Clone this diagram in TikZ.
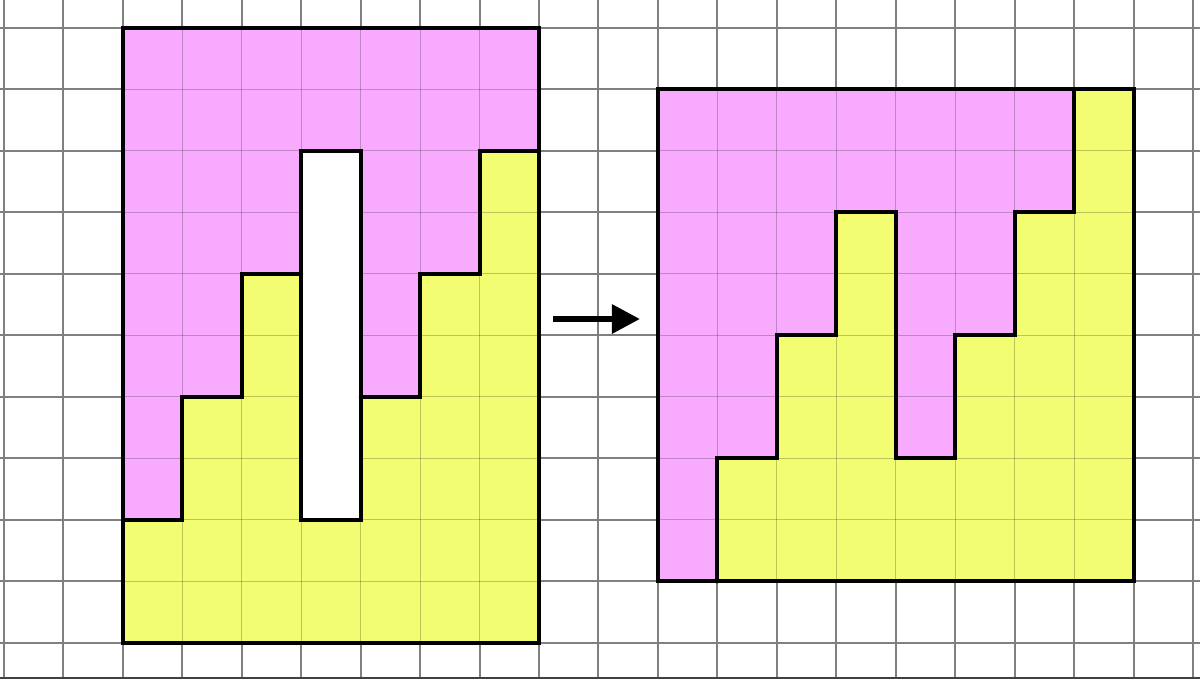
\documentclass[tikz,border=0pt]{standalone}
\usetikzlibrary{arrows.meta}
\definecolor{pinkfill}{RGB}{248,170,255}
\definecolor{yellowfill}{RGB}{243,253,114}
\definecolor{gridcol}{RGB}{128,128,128}
\begin{document}
\begin{tikzpicture}[x={(29.725pt,0)},y={(0,-30.75pt)},
  gridline/.style={draw=gridcol,line width=1pt},
  innergrid/.style={draw=black,opacity=0.22,line width=0.5pt},
  outline/.style={draw=black,line width=2pt,line join=miter},
  cut/.style={draw=black,line width=2pt,line join=miter,line cap=round}]
\useasboundingbox (-0.0673,-0.4553) rectangle (20.118,10.585);
% background grid
\fill[white] (-0.0673,-0.4553) rectangle (20.118,10.585);
\foreach \i in {0,...,20} \draw[gridline] (\i,-0.5) -- (\i,10.6);
\foreach \j in {0,...,10} \draw[gridline] (-0.1,\j) -- (20.2,\j);
\draw[draw=black!75,line width=0.6pt] (-0.1,10.57) -- (20.2,10.57);
% left shape
\fill[yellowfill] (2,0) rectangle (9,10);
\fill[pinkfill] (2,0) -- (9,0) -- (9,2) -- (8,2) -- (8,4) -- (7,4) -- (7,6) -- (6,6) -- (6,2) -- (5,2) -- (5,4) -- (4,4) -- (4,6) -- (3,6) -- (3,8) -- (2,8) -- cycle;
\begin{scope}
\clip (2,0) rectangle (9,10);
\foreach \i in {3,...,8} \draw[innergrid] (\i,0) -- (\i,10);
\foreach \j in {1,...,9} \draw[innergrid] (2,\j) -- (9,\j);
\end{scope}
\fill[white] (5,2) rectangle (6,8);
\draw[outline] (2,0) rectangle (9,10);
\draw[outline] (5,2) rectangle (6,8);
\draw[cut] (2,8) -- (3,8) -- (3,6) -- (4,6) -- (4,4) -- (5,4);
\draw[cut] (6,6) -- (7,6) -- (7,4) -- (8,4) -- (8,2) -- (9,2);
% arrow
\coordinate (arrowstart) at (9.235,4.732);
\coordinate (arrowend) at (10.698,4.732);
\draw[line width=3pt,-{Triangle[length=14pt,width=14pt]}] (arrowstart) -- (arrowend);
% right shape
\fill[yellowfill] (11,1) rectangle (19,9);
\fill[pinkfill] (11,1) -- (18,1) -- (18,3) -- (17,3) -- (17,5) -- (16,5) -- (16,7) -- (15,7) -- (15,3) -- (14,3) -- (14,5) -- (13,5) -- (13,7) -- (12,7) -- (12,9) -- (11,9) -- cycle;
\begin{scope}
\clip (11,1) rectangle (19,9);
\foreach \i in {12,...,18} \draw[innergrid] (\i,1) -- (\i,9);
\foreach \j in {2,...,8} \draw[innergrid] (11,\j) -- (19,\j);
\end{scope}
\draw[outline] (11,1) rectangle (19,9);
\draw[cut] (12,9) -- (12,7) -- (13,7) -- (13,5) -- (14,5) -- (14,3) -- (15,3) -- (15,7) -- (16,7) -- (16,5) -- (17,5) -- (17,3) -- (18,3) -- (18,1);
\end{tikzpicture}
\end{document}
